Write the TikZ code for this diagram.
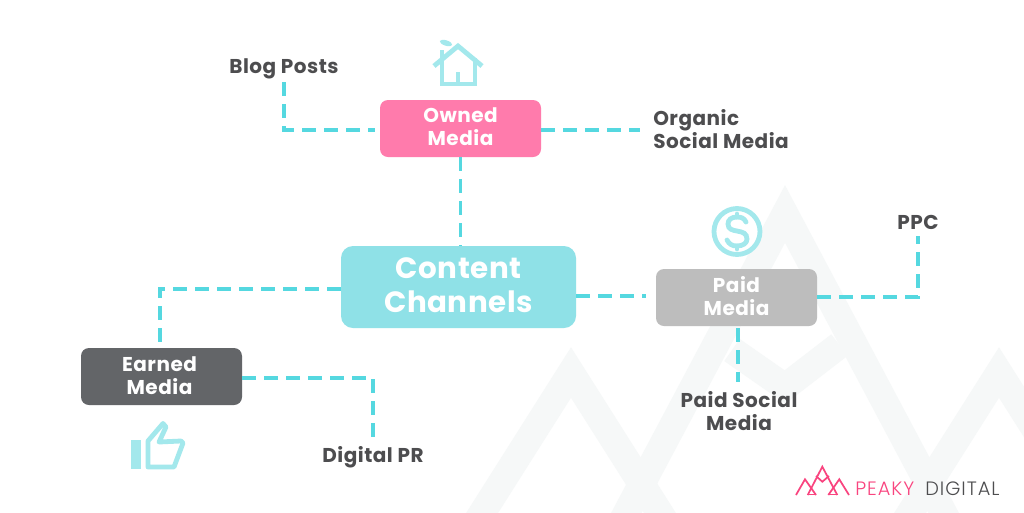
\documentclass[tikz,border=0pt]{standalone}
\usepackage{fontspec}
\setmainfont{Poppins}[BoldFont={Poppins Bold}]
\newfontfamily\logofont{Poppins Light}[LetterSpace=5]
\newfontfamily\labelfont{Poppins Bold}[LetterSpace=2.5]
\newfontfamily\bigfont{Poppins Bold}[LetterSpace=2]
\newcommand\padb[1]{\rule[-#1]{0pt}{#1}}
\definecolor{dashc}{HTML}{55D8E0}
\definecolor{iconc}{HTML}{A3E8EC}
\definecolor{cyanbox}{HTML}{8FE1E7}
\definecolor{pinkbox}{HTML}{FF7BAC}
\definecolor{greybox}{HTML}{BDBDBD}
\definecolor{darkbox}{HTML}{636568}
\definecolor{labelc}{HTML}{4D4D4F}
\definecolor{bgm}{HTML}{F6F8F8}
\definecolor{logop}{HTML}{F9447F}
\tikzset{
 boxsmall/.style={draw=none,rounded corners=6pt,minimum width=120.75pt,minimum height=42.75pt,inner sep=0pt,align=center,text=white,font=\labelfont\fontsize{15}{17.2}\selectfont},
 boxbig/.style={draw=none,rounded corners=9pt,minimum width=176.25pt,minimum height=61.5pt,inner sep=0pt,align=center,text=white,font=\bigfont\fontsize{22}{25.3}\selectfont},
 lab/.style={inner sep=0pt,align=center,text=labelc,font=\labelfont\fontsize{15}{17.2}\selectfont},
 conn/.style={draw=dashc,line width=2.6pt,dash pattern=on 10.5pt off 6pt},
 bgline/.style={draw=bgm,line width=20.25pt,miter limit=10},
 icon/.style={draw=iconc,line width=3.6pt},
 logoline/.style={draw=logop,line width=1.3pt},
}
\begin{document}
\begin{tikzpicture}[x=0.75pt,y=-0.75pt]
\useasboundingbox (0,0) rectangle (1024,512);
\fill[white] (0,0) rectangle (1024,512);
\begin{scope}
\clip (0,0) rectangle (1024,512);
\draw[bgline] (465,540) -- (571,372.5) -- (677,540);
\draw[bgline] (612,540) -- (785,214) -- (958,540);
\draw[bgline] (893,540) -- (999,372.5) -- (1105,540);
\draw[bgline] (732,350) -- (785,387) -- (839.5,345);
\end{scope}
% nodes
\node[boxsmall,fill=pinkbox] (owned) at (460.5,128.5) {Owned\\Media\padb{3pt}};
\node[boxbig,fill=cyanbox] (content) at (458.5,287) {Content\\Channels\padb{2.5pt}};
\node[boxsmall,fill=greybox] (paid) at (736.5,297.5) {Paid\\Media\padb{2pt}};
\node[boxsmall,fill=darkbox] (earned) at (161.5,376.5) {Earned\rule{3pt}{0pt}\\Media\rule{3pt}{0pt}\padb{1.5pt}};
\node[lab] (blog) at (284,69) {Blog Posts};
\node[lab,align=left,anchor=west] (organic) at (653,129) {Organic\\Social Media};
\node[lab] (ppc) at (918,222) {PPC};
\node[lab] (psocial) at (739,411.5) {Paid Social\\Media};
\node[lab] (dpr) at (373,457) {Digital PR};
% connectors
\draw[conn,shorten <=2pt,shorten >=3.75pt] (blog.south) |- ([yshift=-1.1pt]owned.west);
\draw[conn,shorten >=9.75pt] ([yshift=-1.1pt]owned.east) -- ([yshift=-1.1pt]owned.east -| organic.west);
\draw[conn] (owned.south) -- (owned.south |- content.north);
\draw[conn] ([yshift=-1.5pt]content.west) -| ([xshift=-1.1pt]earned.north);
\draw[conn,shorten >=7.5pt] ([yshift=1.1pt]paid.west -| content.east) -- ([yshift=1.1pt]paid.west);
\draw[conn,shorten >=5pt] ([yshift=0.4pt]paid.east) -| (ppc.south);
\draw[conn,shorten <=1.5pt,shorten >=7pt] ([xshift=1.1pt]paid.south) -- ([xshift=1.1pt]paid.south |- psocial.north);
\draw[conn,shorten >=5pt] ([yshift=-1.1pt]earned.east) -| (dpr.north);
% house
\draw[icon,line join=miter] (434,66) -- (458,46) -- (482,66);
\draw[icon] (442,50) -- (442,84) -- (475,84) -- (475,58);
\draw[icon] (458,72) -- (458,84);
\fill[iconc,rotate around={-18:(446,43)}] (446,43) ellipse (6.5 and 2.7);
% dollar
\draw[icon] (737,231.5) circle (23);
\draw[icon,line cap=round] (746,222) .. controls (744,218) and (741,217) .. (737,217) .. controls (731,217) and (728,220) .. (728,224) .. controls (728,235) and (747,227) .. (747,239) .. controls (747,243) and (743,246) .. (737,246) .. controls (732,246) and (729,244) .. (727,240);
\draw[icon,line cap=round] (737,214) -- (737,217);
\draw[icon,line cap=round] (737,246) -- (737,249);
% thumb
\fill[iconc] (131,440) rectangle (141,469);
\draw[icon,line join=round] (148,467) -- (148,441) -- (163,423.5) -- (166,427) -- (159,442) -- (181,441) -- (183,443) -- (174,467) -- cycle;
% logo
\draw[logoline] (796,495) -- (805,479.3) -- (816,495);
\draw[logoline] (807.7,495) -- (822.3,466.7) -- (837.3,495);
\draw[logoline] (828.3,495) -- (839.3,479.3) -- (849,495);
\draw[logoline] (816,476) -- (822.3,481.7) -- (829,476);
\draw[logoline] (808,494.5) -- (816,494.5);
\draw[logoline] (828.3,494.5) -- (836.7,494.5);
\node[anchor=west,inner sep=0pt,text=logop,font=\logofont\fontsize{14.5}{16}\selectfont] (peaky) at (855,488.7) {PEAKY};
\node[anchor=west,inner sep=0pt,text=labelc,font=\logofont\fontsize{14.5}{16}\selectfont] (digital) at (925,488.7) {DIGITAL};
\end{tikzpicture}
\end{document}
